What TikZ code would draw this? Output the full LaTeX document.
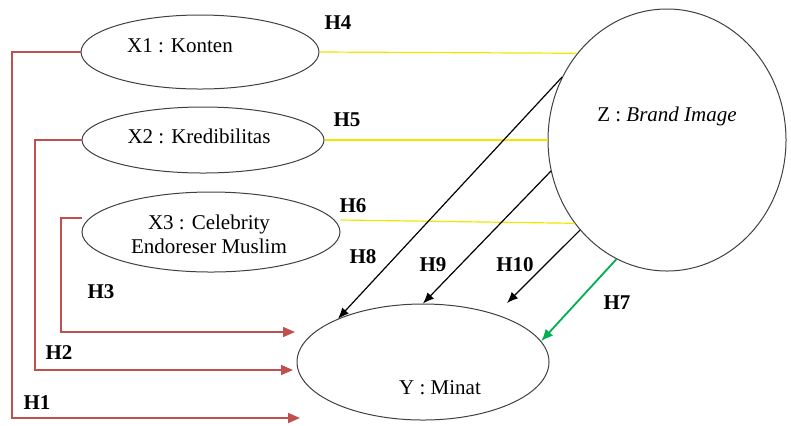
\documentclass[tikz,border=0pt]{standalone}
\usepackage{fontspec}
\setmainfont{Liberation Serif}
\usetikzlibrary{shapes,arrows,calc,arrows.meta}
\usetikzlibrary{positioning}
\definecolor{redline}{RGB}{192,80,77}
\definecolor{greenline}{RGB}{0,176,80}
\definecolor{yellowline}{RGB}{240,230,0}
\tikzset{
  var/.style={ellipse, draw=black!75, line width=0.5pt, inner sep=0pt},
  vartext/.style={font=\fontsize{10.5}{12}\selectfont, align=center, inner sep=0pt},
  hyp/.style={font=\fontsize{10.5}{12}\selectfont\bfseries, inner sep=0pt},
  redarrow/.style={draw=redline, line width=0.75pt, -{Triangle[length=6pt,width=5pt]}, redline},
  yellowlink/.style={draw=yellowline, line width=0.6pt},
  blackarrow/.style={draw=black, line width=0.6pt, -{Latex[length=5.5pt,width=4.5pt]}},
  greenarrow/.style={draw=greenline, line width=0.9pt, -{Latex[length=6pt,width=5pt]}, greenline}
}
\begin{document}
\begin{tikzpicture}[x=0.5pt,y=-0.5pt]
            \useasboundingbox (0,0) rectangle (791,425);
            % variables
            \draw (200,52) node[var, minimum width=119pt, minimum height=37pt] (x1) {};
            \draw (203,140) node[var, minimum width=121pt, minimum height=33pt] (x2) {};
            \draw (211,232) node[var, minimum width=129pt, minimum height=40pt] (x3) {};
            \draw (667,140) node[var, minimum width=119pt, minimum height=131pt] (z) {};
            \draw (423,362) node[var, minimum width=126pt, minimum height=58pt] (y) {};
            \node[vartext] (x1t) at (180,46) {X1 : Konten};
            \node[vartext] (x2t) at (199,136) {X2 : Kredibilitas};
            \node[vartext] (x3t) at (209,234) {X3 : Celebrity\\Endoreser Muslim};
            \node[vartext] (zt) at (667,116) {Z : \textit{Brand Image}};
            \node[vartext] (yt) at (440,388) {Y : Minat};
            % free ends
            \coordinate (h1c) at (12,418);
            \coordinate (h1e) at (300,418);
            \coordinate (h2c) at (35,370);
            \coordinate (h2e) at (293,370);
            \coordinate (h3c) at (61,332);
            \coordinate (h3e) at (295,332);
            \coordinate (h10e) at (507,303);
            % direct paths
            \draw[redarrow] (x1.west) -| (h1c) -- (h1e);
            \draw[redarrow] (x2.west) -| (h2c) -- (h2e);
            \draw[redarrow] ([yshift=7pt]x3.west) -| (h3c) -- (h3e);
            % via Z
            \draw[yellowlink] (x1.east) -- (z.136);
            \draw[yellowlink] (x2.east) -- (z.west);
            \draw[yellowlink] ([yshift=6pt]x3.east) -- (z.222);
            \path
            (z.149) edge[blackarrow] (y.153)
            (z.195) edge[blackarrow] (y.north)
            (z.226) edge[blackarrow] (h10e)
            (z.247) edge[greenarrow] (y.10);
            % labels
            \node[hyp] (h1) at (37,403) {H1};
            \node[hyp] (h2) at (59,353) {H2};
            \node[hyp] (h3) at (101,292) {H3};
            \node[hyp] (h4) at (338,23) {H4};
            \node[hyp] (h5) at (347,120) {H5};
            \node[hyp] (h6) at (353,206) {H6};
            \node[hyp] (h7) at (617,303) {H7};
            \node[hyp] (h8) at (363,257) {H8};
            \node[hyp] (h9) at (433,265) {H9};
            \node[hyp] (h10) at (515,265) {H10};
        \end{tikzpicture}
\end{document}
